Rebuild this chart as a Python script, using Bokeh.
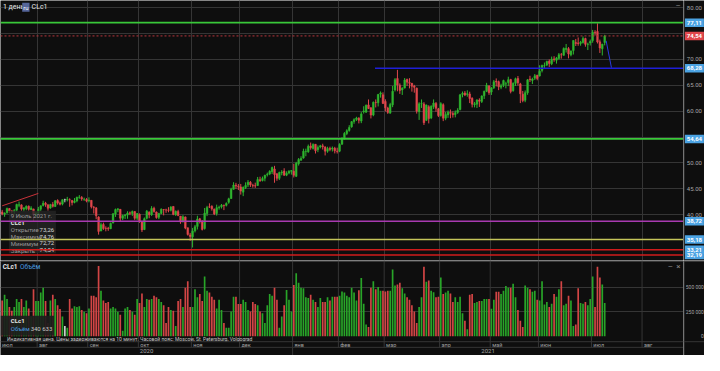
from bokeh.plotting import figure
from bokeh.layouts import column, row
from bokeh.models import Range1d, FixedTicker, Span, Label
from bokeh.core.properties import value
from bokeh.embed import file_html
from bokeh.resources import INLINE

# ---------------- data (CLc1, daily, 13 Jul 2020 - 9 Jul 2021) ----------------
opens = [
    40.52, 40.07, 40.34, 41.17, 40.72, 40.57, 40.84, 41.81, 41.88, 41.03, 41.20, 41.62, 40.96, 41.10, 39.85,
    40.28, 41.05, 41.77, 42.21, 41.88, 41.28, 41.96, 41.55, 42.72, 42.26, 42.04, 42.89, 42.85, 42.86, 42.75, 42.36, 42.65, 43.35, 43.33, 42.96, 42.92,
    42.67, 42.76, 41.44, 41.30, 39.55, 36.82, 38.10, 37.35, 37.38, 37.29, 38.36, 40.10, 40.95, 41.03, 39.30, 39.79, 39.91, 40.35, 40.20, 40.58, 39.31,
    40.05, 38.70, 37.12, 39.28, 40.46, 39.99, 41.22, 40.49, 39.48, 40.23, 41.00, 40.91, 40.90, 40.85, 41.58, 39.99, 40.61, 39.71, 38.60, 39.55, 37.47, 36.08,
    35.70, 36.87, 37.72, 39.19, 38.76, 37.32, 40.21, 41.50, 41.62, 41.04, 40.23, 41.34, 41.52, 41.80, 41.79, 42.37, 43.10, 44.88, 45.68, 45.44,
    45.36, 44.33, 45.24, 45.75, 46.24, 45.65, 45.60, 45.62, 46.74, 46.60, 47.04, 47.72, 47.84, 48.28, 48.82, 47.89, 47.01, 48.09, 48.41, 47.63, 48.03, 48.37,
    48.40, 47.40, 49.82, 50.52, 50.93, 52.18, 52.13, 53.27, 52.80, 53.61, 52.56, 53.06, 53.30, 53.05, 52.25, 52.79, 52.68, 52.81, 52.25,
    52.27, 53.61, 54.71, 55.68, 56.27, 56.97, 57.99, 58.40, 58.61, 58.10, 59.87, 59.80, 61.21, 60.64, 59.25, 61.71, 61.61, 63.29, 63.16,
    61.87, 60.61, 59.61, 61.22, 64.11, 66.30, 65.03, 64.11, 64.46, 66.14, 65.55, 65.37, 64.85, 64.45, 59.89, 61.48, 61.40, 58.22, 60.85, 58.69, 60.89, 61.50, 60.45,
    59.14, 61.26, 58.63, 59.28, 59.73, 59.54, 59.34, 59.76, 60.31, 63.23, 63.50, 63.23, 63.32, 62.50, 61.25, 61.35, 62.14, 61.89, 62.96, 63.84, 64.85,
    63.70, 64.50, 65.77, 65.70, 64.60, 65.00, 65.25, 65.54, 66.10, 63.96, 65.37, 66.32, 65.27, 63.28, 62.09, 63.56, 66.22, 65.93, 66.37, 66.95,
    66.79, 67.86, 68.77, 68.91, 69.67, 69.16, 70.10, 69.84, 70.20, 70.92, 70.80, 71.93, 72.08, 70.88, 71.72, 73.26, 73.19, 73.09, 73.25, 74.03, 72.91, 73.18,
    73.64, 75.25, 75.41, 73.40, 72.06, 73.26,
]
highs = [
    40.91, 40.44, 41.35, 41.25, 40.87, 41.07, 42.12, 42.51, 42.00, 41.46, 41.79, 41.77, 41.63, 41.14, 40.57,
    41.49, 41.78, 42.68, 42.47, 42.07, 42.08, 42.42, 42.80, 42.96, 42.53, 42.95, 43.07, 43.43, 43.15, 42.80, 43.20, 43.47, 43.78, 43.58, 43.28, 43.19,
    43.34, 42.80, 41.65, 41.47, 39.68, 38.45, 38.45, 37.73, 37.63, 38.47, 40.29, 41.17, 41.23, 41.08, 40.00, 40.12, 40.65, 40.60, 40.79, 40.66, 40.31,
    40.23, 38.79, 39.45, 40.90, 40.64, 41.64, 41.53, 40.61, 40.35, 41.21, 41.07, 41.14, 41.43, 41.64, 41.65, 40.81, 40.93, 39.73, 39.89, 39.64, 37.47, 36.47,
    37.42, 38.01, 39.78, 39.36, 38.92, 41.28, 41.70, 42.18, 41.80, 41.18, 41.93, 41.73, 42.05, 41.94, 42.38, 43.26, 45.20, 46.26, 46.14, 45.92,
    45.93, 45.45, 46.24, 46.68, 46.48, 45.96, 46.18, 47.28, 47.33, 47.36, 47.70, 48.12, 48.59, 49.28, 49.43, 48.00, 48.31, 48.59, 48.96, 48.37, 48.58, 48.58,
    49.83, 50.20, 50.94, 51.28, 52.75, 52.75, 53.55, 53.93, 53.78, 53.63, 53.37, 53.49, 53.70, 53.23, 53.12, 53.13, 53.17, 53.10, 52.94,
    53.80, 54.96, 55.95, 56.50, 57.29, 58.09, 58.62, 58.91, 58.84, 59.82, 60.95, 61.28, 62.26, 60.77, 61.88, 62.26, 63.34, 63.81, 63.64,
    62.29, 60.84, 61.61, 64.86, 66.40, 67.98, 65.38, 64.62, 66.40, 66.28, 66.37, 65.47, 65.08, 64.55, 61.73, 62.26, 61.74, 61.28, 61.14, 61.12, 62.27, 61.76, 60.63,
    61.73, 61.51, 59.84, 60.13, 60.32, 59.96, 60.13, 60.57, 63.33, 63.80, 63.88, 64.03, 63.76, 62.68, 61.78, 62.32, 62.48, 63.06, 63.96, 65.47, 65.04,
    64.65, 66.03, 66.33, 65.91, 65.30, 66.08, 65.69, 66.66, 66.25, 65.58, 66.48, 66.80, 65.47, 63.91, 64.00, 66.21, 66.84, 66.47, 67.18, 67.02,
    68.87, 69.00, 69.40, 69.76, 70.00, 70.55, 70.62, 70.48, 71.24, 71.25, 72.33, 72.99, 72.38, 71.73, 73.70, 73.96, 74.25, 73.58, 74.45, 74.20, 73.24, 73.84,
    75.70, 75.65, 76.98, 73.83, 73.03, 74.76,
]
lows = [
    39.87, 39.58, 40.20, 40.31, 40.20, 40.16, 40.62, 41.42, 40.75, 40.60, 40.84, 40.76, 40.86, 38.72, 39.52,
    40.08, 40.68, 41.58, 41.51, 40.76, 41.12, 41.38, 41.48, 41.93, 41.78, 41.79, 42.38, 42.54, 41.51, 41.78, 42.18, 42.38, 43.06, 42.68, 42.66, 42.38,
    42.36, 41.19, 40.22, 39.11, 36.13, 36.80, 37.05, 36.77, 36.86, 37.18, 38.33, 39.56, 40.47, 38.62, 38.94, 39.16, 39.20, 39.90, 39.75, 38.98, 38.93,
    38.41, 36.63, 37.00, 39.07, 39.30, 39.75, 40.37, 39.21, 39.13, 40.08, 39.85, 40.35, 40.45, 40.62, 39.88, 39.75, 39.70, 38.22, 38.51, 37.17, 35.95, 34.92,
    33.64, 36.55, 37.12, 38.28, 36.94, 37.10, 39.71, 41.27, 40.77, 39.91, 39.81, 40.96, 41.18, 40.87, 41.58, 42.11, 43.02, 44.82, 44.98, 44.75,
    43.87, 43.57, 44.95, 45.33, 45.35, 45.22, 45.16, 45.54, 46.32, 46.41, 46.44, 47.37, 47.63, 47.84, 46.16, 46.54, 46.68, 47.60, 47.50, 47.44, 47.80, 47.73,
    47.18, 47.26, 49.48, 50.41, 50.81, 51.28, 51.95, 52.54, 52.57, 51.81, 52.07, 52.81, 52.58, 51.44, 51.96, 52.25, 52.20, 51.83, 51.81,
    52.07, 53.50, 54.51, 55.36, 56.03, 56.79, 57.56, 58.11, 57.63, 57.68, 59.53, 59.69, 60.41, 58.59, 59.02, 60.72, 60.90, 62.61, 61.37,
    59.96, 59.47, 59.53, 60.77, 63.80, 63.84, 63.34, 63.13, 64.39, 64.88, 64.40, 63.77, 63.57, 59.53, 58.31, 60.62, 57.32, 58.09, 57.63, 58.46, 60.43, 59.89, 58.86,
    58.94, 58.07, 58.25, 58.70, 58.63, 58.75, 58.80, 59.48, 60.15, 62.67, 62.91, 62.79, 61.56, 60.72, 60.73, 60.61, 60.82, 61.57, 62.35, 63.68, 63.15,
    63.13, 64.30, 64.78, 64.06, 64.24, 64.65, 64.41, 64.84, 63.44, 63.75, 64.86, 64.96, 61.56, 61.72, 61.73, 63.16, 65.63, 65.25, 66.04, 65.97,
    66.70, 67.49, 68.18, 68.70, 68.55, 68.89, 69.55, 69.19, 69.96, 70.15, 70.70, 71.33, 70.20, 70.60, 70.95, 72.59, 72.64, 72.65, 73.07, 72.46, 71.81, 72.69,
    73.23, 74.62, 73.08, 71.25, 70.76, 72.72,
]
closes = [
    40.10, 40.29, 41.20, 40.75, 40.59, 40.81, 41.96, 41.90, 41.07, 41.29, 41.60, 41.04, 41.27, 39.92, 40.27,
    41.01, 41.70, 42.19, 41.95, 41.22, 41.94, 41.61, 42.67, 42.24, 42.01, 42.89, 42.89, 42.93, 42.82, 42.34, 42.62, 43.35, 43.39, 43.04, 42.97, 42.61,
    42.76, 41.51, 41.37, 39.77, 36.76, 38.05, 37.30, 37.33, 37.26, 38.28, 40.16, 40.97, 41.11, 39.31, 39.80, 39.93, 40.31, 40.25, 40.60, 39.29, 40.22,
    38.72, 37.05, 39.22, 40.67, 39.95, 41.19, 40.60, 39.43, 40.20, 41.04, 40.96, 40.88, 40.83, 41.46, 40.03, 40.64, 39.85, 38.56, 39.57, 37.39, 36.17, 35.79,
    36.81, 37.66, 39.15, 38.79, 37.14, 40.29, 41.36, 41.45, 41.12, 40.13, 41.34, 41.43, 41.82, 41.74, 42.15, 43.06, 44.91, 45.71, 45.53, 45.34,
    44.55, 45.28, 45.64, 46.26, 45.76, 45.60, 45.52, 46.78, 46.57, 46.99, 47.62, 47.82, 48.36, 49.10, 47.74, 47.02, 48.12, 48.23, 47.62, 48.00, 48.40, 48.52,
    47.62, 49.93, 50.63, 50.83, 52.24, 52.25, 53.21, 52.91, 53.57, 52.36, 52.98, 53.31, 53.13, 52.27, 52.77, 52.61, 52.85, 52.34, 52.20,
    53.55, 54.76, 55.69, 56.23, 56.85, 57.97, 58.36, 58.68, 58.24, 59.47, 60.05, 61.14, 60.52, 59.24, 61.70, 61.67, 63.22, 63.53, 61.50,
    60.64, 59.75, 61.28, 63.83, 66.09, 65.05, 64.01, 64.44, 66.02, 65.61, 65.39, 64.80, 64.60, 60.00, 61.42, 61.55, 57.76, 61.18, 58.56, 60.97, 61.56, 60.55, 59.16,
    61.45, 58.65, 59.33, 59.77, 59.60, 59.32, 59.70, 60.18, 63.15, 63.46, 63.13, 63.38, 62.44, 61.35, 61.43, 62.14, 61.91, 62.94, 63.86, 65.01, 63.58,
    64.49, 65.69, 65.63, 64.71, 64.90, 65.92, 65.28, 66.08, 63.82, 65.37, 66.27, 65.49, 63.36, 62.05, 63.58, 66.05, 66.07, 66.21, 66.85, 66.32,
    67.72, 68.83, 68.81, 69.62, 69.23, 70.05, 69.96, 70.29, 70.91, 70.88, 72.12, 72.15, 71.04, 71.64, 73.66, 73.06, 73.08, 73.30, 74.05, 72.91, 72.98, 73.47,
    75.23, 75.16, 73.37, 72.20, 72.94, 74.54,
]
volumes_k = [
    366, 425, 382, 300, 260, 300, 382, 350, 382, 300, 366, 284, 203, 480, 360,
    360, 448, 497, 360, 137, 366, 425, 382, 317, 280, 203, 105, 88, 382, 284, 307, 300, 307, 268, 250, 235,
    284, 415, 415, 400, 719, 464, 366, 340, 350, 284, 300, 284, 250, 219, 56, 284, 300, 268, 250, 219, 382,
    340, 438, 300, 382, 373, 382, 415, 399, 382, 350, 317, 137, 300, 268, 262, 105, 360, 382, 300, 497, 562, 300,
    300, 480, 399, 431, 360, 611, 464, 448, 405, 373, 284, 373, 268, 137, 88, 88, 252, 405, 405, 330,
    330, 373, 350, 268, 252, 350, 330, 317, 252, 235, 137, 317, 431, 415, 497, 373, 88, 203, 317, 474, 373, 252,
    523, 644, 546, 497, 490, 399, 392, 425, 373, 350, 300, 392, 350, 350, 399, 366, 405, 405, 405,
    415, 457, 448, 415, 399, 497, 448, 366, 470, 595, 333, 121, 95, 497, 562, 480, 503, 464, 464,
    457, 464, 464, 683, 520, 529, 546, 490, 438, 400, 373, 317, 252, 137, 300, 399, 709, 556, 569, 464, 451, 399, 405,
    601, 431, 448, 464, 438, 350, 399, 350, 405, 235, 160, 72, 425, 431, 340, 350, 360, 360, 382, 382, 382,
    281, 373, 454, 454, 431, 464, 513, 497, 497, 536, 399, 268, 160, 95, 520, 497, 480, 454, 464, 373,
    366, 562, 324, 350, 300, 333, 431, 405, 480, 562, 317, 333, 415, 366, 105, 121, 490, 340, 333, 350, 317, 382,
    611, 300, 709, 601, 529, 340.633,
]
# first trading day index of each month (Aug 2020 ... Aug 2021)
month_starts = [15, 36, 57, 79, 99, 121, 140, 159, 182, 203, 223, 245, 266]
month_names = ["июл", "авг", "сен", "окт", "ноя", "дек", "янв", "фев", "мар", "апр", "май", "июн", "июл", "авг"]
year_names = ["2020", "2021"]
price_ticks = [40, 45, 50, 55, 60, 65, 70, 75, 80]
volume_ticks = [0, 250, 500]
volume_tick_labels = ["0", "250\u00a0000", "500\u00a0000"]
levels = [77.11, 74.54, 68.28, 54.64, 38.72, 35.18, 33.21, 32.19]
trend_x = [0, 15]
trend_y = [41.7, 44.1]
drop_x = [250.6, 252.8]
drop_y = [73.6, 68.4]
last_date = "9 Июль 2021 г."
last_volume = "340 633"

# ---------------- styling ----------------
BG = "#0e0e0e"
GRID = "#353535"
AX = "#a5a5a5"
FONT = "Roboto"
UP, DOWN, FLAT = "#2fb52f", "#e0474c", "#cfcfcf"
VUP, VDOWN = "#28a428", "#d24545"
level_colors = ["#39c839", "#b8363c", "#1f1fd8", "#39c839", "#a83ab0", "#c5c55a", "#d01c1c", "#d01c1c"]
level_widths = [1.6, 1, 1.6, 1.8, 1.3, 1.5, 1.6, 1.6]
level_box = ["#4ba3e3", "#e0474c", "#4ba3e3", "#4ba3e3", "#4ba3e3", "#4ba3e3", "#4ba3e3", "#4ba3e3"]

n = len(closes)
idx = list(range(n))
cols = [UP if c > o else (DOWN if c < o else FLAT) for o, c in zip(opens, closes)]
vcols = [VUP if c > o else (VDOWN if c < o else FLAT) for o, c in zip(opens, closes)]
body_top = [max(o, c) for o, c in zip(opens, closes)]
body_bot = [min(o, c) for o, c in zip(opens, closes)]

X0 = -0.7
X1 = 282.7
grid_x = [b - 0.5 for b in month_starts]
fmt = lambda v: f"{v:.2f}".replace(".", ",")
MAIN_W, STRIP_W = 683, 21

def base(fw, fh, xr, yr):
    f = figure(frame_width=fw, frame_height=fh, x_range=xr, y_range=yr,
               output_backend="svg", toolbar_location=None, x_axis_location=None,
               y_axis_location=None, background_fill_color=BG, border_fill_color=BG,
               min_border_left=0, min_border_right=0, min_border_top=0, min_border_bottom=0,
               outline_line_color=None)
    f.grid.grid_line_color = GRID
    return f

def txt(f, x, y, t, color="#e8e8e8", size="7px", align="left", bold=False):
    f.text(x=[x], y=[y], text=[t], text_color=color, text_font=value(FONT), text_font_size=size,
           text_align=align, text_baseline="middle", text_font_style="bold" if bold else "normal")

xr = Range1d(X0, X1)

# ---------------- price panel ----------------
p1 = base(MAIN_W, 260, xr, Range1d(31.13, 81.39))
p1.xgrid.ticker = FixedTicker(ticks=grid_x)
p1.ygrid.ticker = FixedTicker(ticks=price_ticks)

p1.segment(x0=idx, y0=lows, x1=idx, y1=highs, color=cols, line_width=1)
p1.vbar(x=idx, top=body_top, bottom=body_bot, width=0.7, fill_color=cols, line_color=cols, line_width=0.5)

p1.line(trend_x, trend_y, line_color="#c8323a", line_width=1)
p1.line(drop_x, drop_y, line_color="#2a3ae0", line_width=1)

# tooltip box
p1.quad(left=[2.8], right=[22.3], bottom=[32.55], top=[40.75], fill_color="#262626", fill_alpha=0.8, line_color=None)
txt(p1, 3.6, 39.80, last_date, color="#9a9a9a", size="6px")
txt(p1, 3.6, 38.51, "CLc1", size="6px", bold=True)
for (name, v, yy) in [("Открытие", opens[-1], 37.03), ("Максимум", highs[-1], 35.73),
                      ("Минимум", lows[-1], 34.44), ("Закрыть", closes[-1], 33.15)]:
    txt(p1, 3.6, yy, name, color="#9a9a9a", size="6px")
    txt(p1, 21.6, yy, fmt(v), color="#d8d8d8", size="6px", align="right")

for lv, c, w in zip(levels, level_colors, level_widths):
    if lv == 68.28:
        p1.segment(x0=[154.7], y0=[lv], x1=[X1], y1=[lv], line_color=c, line_width=w)
    elif lv == 74.54:
        p1.add_layout(Span(location=lv, dimension="width", line_color=c, line_width=w, line_dash="2 2"))
    else:
        p1.add_layout(Span(location=lv, dimension="width", line_color=c, line_width=w))

# header
txt(p1, 0.3, 80.1, "1 день", size="7px")
p1.add_layout(Label(x=8.3, y=80.1, text="ru", text_font=FONT, text_font_size="6px", text_color="#ffffff",
                    text_baseline="middle", background_fill_color="#55659a", background_fill_alpha=1.0, padding=1))
txt(p1, 12.2, 80.1, "CLc1", size="7px")
txt(p1, 280.5, 80.4, "–", color="#8a8a8a", size="8px", align="center")

# price scale strip
a1 = base(STRIP_W, 260, Range1d(0, 1), p1.y_range)
a1.grid.visible = False
a1.segment(x0=[0.02], y0=[31.13], x1=[0.02], y1=[81.39], line_color="#4a4a4a", line_width=1)
for t in price_ticks:
    txt(a1, 0.16, t, f"{t:.2f}", color=AX, size="6px")
a1.rect(x=[0.52] * len(levels), y=levels, width=19, height=8.5, width_units="screen", height_units="screen",
        fill_color=level_box, line_color=None)
a1.text(x=[0.52] * len(levels), y=levels, text=[fmt(v) for v in levels], text_color="#ffffff",
        text_font=value(FONT), text_font_size="6px", text_font_style="bold", text_align="center",
        text_baseline="middle")

# ---------------- volume panel ----------------
p2 = base(MAIN_W, 95, xr, Range1d(-196, 774))
p2.xgrid.visible = False
p2.ygrid.ticker = FixedTicker(ticks=volume_ticks[1:])

p2.segment(x0=grid_x, y0=[-113] * len(grid_x), x1=grid_x, y1=[774] * len(grid_x), line_color=GRID, line_width=1)
jan_x = month_starts[5] - 0.5
p2.segment(x0=[jan_x], y0=[-196], x1=[jan_x], y1=[-113], line_color=GRID, line_width=1)
p2.add_layout(Span(location=-55, dimension="width", line_color=GRID, line_width=1))
p2.add_layout(Span(location=-113, dimension="width", line_color=GRID, line_width=1))
p2.add_layout(Span(location=766, dimension="width", line_color="#444444", line_width=1))

p2.vbar(x=idx, top=volumes_k, bottom=0, width=0.7, fill_color=vcols, line_color=None)

p2.quad(left=[X0], right=[21.5], bottom=[6], top=[210], fill_color="#1c1c1c", fill_alpha=0.92, line_color=None)
txt(p2, 3.6, 157, "CLc1", size="6px", bold=True)
txt(p2, 3.6, 78, "Объём", color="#4a9be0", size="6px")
txt(p2, 11.8, 78, last_volume, color="#c8c8c8", size="6px")

txt(p2, 0.2, 706, "CLc1", size="6.5px", bold=True)
txt(p2, 7.4, 706, "Объём", color="#4a9be0", size="6.5px")
txt(p2, 277.3, 712, "–", color="#8a8a8a", size="8px", align="center")
txt(p2, 280.6, 712, "×", color="#8a8a8a", size="8px", align="center")

txt(p2, 2.0, -27, "Индикативная цена. Цены задерживаются на 10 минут.   Часовой пояс: Moscow, St. Petersburg, Volgograd",
    color="#c8c8c8", size="5px")

label_x = [X0 + 0.6] + [b + 0.3 for b in month_starts]
for lx, name in zip(label_x, month_names):
    txt(p2, lx, -84, name, color=AX, size="5.5px")
txt(p2, (X0 + jan_x) / 2, -154, year_names[0], color=AX, size="6px", align="center")
txt(p2, (jan_x + X1) / 2, -154, year_names[1], color=AX, size="6px", align="center")

# volume scale strip
a2 = base(STRIP_W, 95, Range1d(0, 1), p2.y_range)
a2.grid.visible = False
a2.segment(x0=[0.02], y0=[-196], x1=[0.02], y1=[774], line_color="#4a4a4a", line_width=1)
a2.add_layout(Span(location=766, dimension="width", line_color="#444444", line_width=1))
a2.add_layout(Span(location=-55, dimension="width", line_color=GRID, line_width=1))
a2.text(x=[0.97] * len(volume_ticks), y=volume_ticks, text=volume_tick_labels, text_color=AX,
        text_font=value(FONT), text_font_size="5px", text_align="right", text_baseline="middle")

layout = column(row(p1, a1, spacing=0), row(p2, a2, spacing=0), spacing=0)
open("out.html", "w").write(file_html(layout, INLINE))
